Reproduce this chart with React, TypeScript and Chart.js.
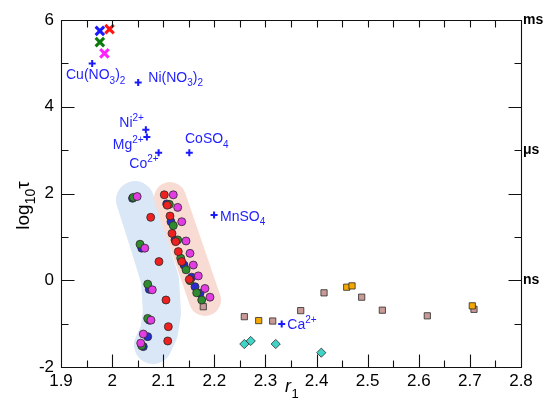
import React, { useEffect, useRef } from "react";
import { Chart, registerables } from "chart.js";

Chart.register(...registerables);

// ---------- axis ranges and tick labels ----------
const X_MIN = 1.9;
const X_MAX = 2.8;
const Y_MIN = -2;
const Y_MAX = 6;
const xTickValues = [1.9, 2.0, 2.1, 2.2, 2.3, 2.4, 2.5, 2.6, 2.7, 2.8];
const xTickLabels = ["1.9", "2", "2.1", "2.2", "2.3", "2.4", "2.5", "2.6", "2.7", "2.8"];
const yTickValues = [-2, 0, 2, 4, 6];
const yTickLabels = ["-2", "0", "2", "4", "6"];
const unitTickValues = [0, 3, 6];
const unitTickLabels = ["ns", "μs", "ms"];

// ---------- data: [r1, log10 tau] ----------
const redCircles: [number, number][] = [
  [2.0755, 1.45], [2.0917, 0.43], [2.1054, -0.455], [2.11, -1.07], [2.1088, -1.4],
  [2.1021, 1.97], [2.108, 1.73], [2.1133, 1.48], [2.1172, 1.08], [2.1244, 0.89],
  [2.1295, 0.66], [2.1362, 0.43], [2.151, 0.02],
];
const greenCircles: [number, number][] = [
  [2.0415, 1.91], [2.0546, 0.83], [2.0696, -0.09], [2.0696, -0.88], [2.058, -1.51],
  [2.1119, 1.75], [2.1197, 1.26], [2.1283, 0.93], [2.1342, 0.51], [2.1446, 0.24],
  [2.1524, -0.01], [2.1655, -0.29], [2.1753, -0.455],
];
const blueCircles: [number, number][] = [
  [2.04, 1.89], [2.058, 0.74], [2.0728, -0.21], [2.0728, -0.92], [2.0696, -1.3], [2.061, -1.53],
  [2.1068, 1.76], [2.1152, 1.35], [2.123, 0.93], [2.1407, 0.35], [2.1557, 0.07],
  [2.1622, -0.15], [2.172, -0.3],
];
const magentaCircles: [number, number][] = [
  [2.049, 1.93], [2.064, 0.74], [2.0786, -0.22], [2.076, -0.92], [2.061, -1.24], [2.056, -1.45],
  [2.1197, 1.97], [2.1283, 1.68], [2.1362, 1.35], [2.1446, 0.905], [2.1524, 0.62],
  [2.1589, 0.35], [2.1686, 0.1], [2.1817, -0.19], [2.1915, -0.39],
];
const brownSquares: [number, number][] = [
  [2.1784, -0.61], [2.2587, -0.84], [2.3142, -0.94], [2.369, -0.7], [2.4146, -0.29],
  [2.4883, -0.39], [2.5287, -0.69], [2.6167, -0.82], [2.708, -0.67],
];
const orangeSquares: [number, number][] = [
  [2.2868, -0.93], [2.459, -0.16], [2.4694, -0.13], [2.7047, -0.59],
];
const cyanDiamonds: [number, number][] = [
  [2.2587, -1.47], [2.2712, -1.4], [2.3201, -1.47], [2.4093, -1.67],
];
const blueCross: [number, number][] = [[1.976, 5.75]];
const redCross: [number, number][] = [[1.995, 5.79]];
const greenCross: [number, number][] = [[1.976, 5.49]];
const magentaCross: [number, number][] = [[1.985, 5.23]];
const saltPluses: [number, number][] = [
  [1.961, 5.0], [2.051, 4.56], [2.066, 3.47], [2.068, 3.3], [2.091, 2.94],
  [2.151, 2.94], [2.1995, 1.504], [2.3318, -1.009],
];

// label anchors (data coords of text start / baseline) and rich-text parts
// part mode: 0 normal, -1 subscript, 1 superscript
const saltLabelAnchors: [number, number][] = [
  [1.9098, 4.64], [2.0708, 4.578], [2.0141, 3.526], [2.0012, 3.019],
  [2.0336, 2.581], [2.1426, 3.157], [2.2111, 1.373], [2.3428, -1.131],
];
const saltLabelParts: [string, number][][] = [
  [["Cu(NO", 0], ["3", -1], [")", 0], ["2", -1]],
  [["Ni(NO", 0], ["3", -1], [")", 0], ["2", -1]],
  [["Ni", 0], ["2+", 1]],
  [["Mg", 0], ["2+", 1]],
  [["Co", 0], ["2+", 1]],
  [["CoSO", 0], ["4", -1]],
  [["MnSO", 0], ["4", -1]],
  [["Ca", 0], ["2+", 1]],
];

// shaded band centre lines (data coords)
const blueBandPath: [number, number][] = [
  [2.0448, 1.85], [2.0741, 0.767], [2.0937, 0.006], [2.0976, -0.755], [2.0917, -1.193], [2.08, -1.493],
];
const pinkBandPath: [number, number][] = [[2.1133, 1.896], [2.1817, -0.455]];

const FONT = '"Liberation Sans", Arial, Helvetica, sans-serif';

const toPts = (arr: [number, number][]) => arr.map(([x, y]) => ({ x, y }));

function drawRich(ctx: CanvasRenderingContext2D, x: number, y: number, parts: [string, number][], size: number, style = "") {
  let cx = x;
  for (const [text, mode] of parts) {
    const fs = mode === 0 ? size : Math.round(size * 0.74);
    ctx.font = `${style}${fs}px ${FONT}`;
    const dy = mode === -1 ? size * 0.34 : mode === 1 ? -size * 0.42 : 0;
    ctx.fillText(text, cx, y + dy);
    cx += ctx.measureText(text).width;
  }
  return cx - x;
}

const bandsPlugin = {
  id: "bands",
  beforeDatasetsDraw(chart: any) {
    const { ctx, chartArea, scales } = chart;
    const xs = scales.x, ys = scales.y;
    ctx.save();
    ctx.beginPath();
    ctx.rect(chartArea.left, chartArea.top, chartArea.right - chartArea.left, chartArea.bottom - chartArea.top);
    ctx.clip();
    const drawBand = (path: [number, number][], color: string, width: number) => {
      ctx.beginPath();
      path.forEach(([x, y], i) => {
        const px = xs.getPixelForValue(x), py = ys.getPixelForValue(y);
        if (i === 0) ctx.moveTo(px, py); else ctx.lineTo(px, py);
      });
      ctx.strokeStyle = color;
      ctx.lineWidth = width;
      ctx.lineCap = "round";
      ctx.lineJoin = "round";
      ctx.stroke();
    };
    drawBand(blueBandPath, "#d9e7f6", 38);
    drawBand(pinkBandPath, "#f8dcd4", 32);
    ctx.restore();
  },
};

const framePlugin = {
  id: "frame",
  afterDatasetsDraw(chart: any) {
    const { ctx, chartArea, scales } = chart;
    const xs = scales.x, ys = scales.y;
    const L = Math.round(chartArea.left) + 0.5;
    const R = Math.round(chartArea.right) + 0.5;
    const T = Math.round(chartArea.top) + 0.5;
    const B = Math.round(chartArea.bottom) + 0.5;
    ctx.save();
    ctx.strokeStyle = "#111";
    ctx.lineWidth = 1.1;
    ctx.beginPath();
    ctx.moveTo(L, T); ctx.lineTo(R, T); ctx.lineTo(R, B); ctx.lineTo(L, B); ctx.closePath();
    for (let i = 0; i <= 18; i++) {
      const v = X_MIN + i * 0.05;
      const px = Math.round(xs.getPixelForValue(v)) + 0.5;
      const major = i % 2 === 0;
      ctx.moveTo(px, B); ctx.lineTo(px, B - (major ? 13 : 7));
      ctx.moveTo(px, T); ctx.lineTo(px, T + 7);
    }
    for (let v = Y_MIN; v <= Y_MAX; v++) {
      const py = Math.round(ys.getPixelForValue(v)) + 0.5;
      const len = v % 2 === 0 ? 13 : 7;
      ctx.moveTo(L, py); ctx.lineTo(L + len, py);
      ctx.moveTo(R, py); ctx.lineTo(R - len, py);
    }
    ctx.stroke();
    ctx.restore();
  },
};

const textPlugin = {
  id: "texts",
  afterDraw(chart: any) {
    const { ctx, chartArea, scales } = chart;
    const xs = scales.x, ys = scales.y;
    ctx.save();
    ctx.textBaseline = "alphabetic";
    ctx.textAlign = "left";
    ctx.fillStyle = "#1f1fff";
    saltLabelAnchors.forEach(([x, y], i) => {
      drawRich(ctx, xs.getPixelForValue(x), ys.getPixelForValue(y), saltLabelParts[i], 14);
    });
    // y axis title
    ctx.fillStyle = "#000";
    ctx.save();
    ctx.translate(29, (chartArea.top + chartArea.bottom) / 2 + 12);
    ctx.rotate(-Math.PI / 2);
    let w = 0;
    ctx.font = `19px ${FONT}`; w += ctx.measureText("log").width;
    ctx.font = `14px ${FONT}`; w += ctx.measureText("10").width;
    ctx.font = `19px ${FONT}`; w += ctx.measureText("τ").width;
    drawRich(ctx, -w / 2, 0, [["log", 0], ["10", -1], ["τ", 0]], 19);
    ctx.restore();
    // x axis title
    const cx = (chartArea.left + chartArea.right) / 2;
    ctx.font = `italic 18px ${FONT}`;
    ctx.fillText("r", cx - 6, 392);
    ctx.font = `13px ${FONT}`;
    ctx.fillText("1", cx + 0.5, 398);
    ctx.restore();
  },
};

export default function App() {
  const ref = useRef<HTMLCanvasElement | null>(null);
  useEffect(() => {
    if (!ref.current) return;
    const circle = (data: [number, number][], color: string) => ({
      data: toPts(data),
      pointStyle: "circle" as const,
      pointRadius: 4,
      backgroundColor: color,
      borderColor: "#2a2a2a",
      borderWidth: 0.8,
    });
    const cross = (data: [number, number][], color: string) => ({
      data: toPts(data),
      pointStyle: "crossRot" as const,
      pointRadius: 6,
      backgroundColor: color,
      borderColor: color,
      borderWidth: 3,
    });
    const chart = new Chart(ref.current, {
      type: "scatter",
      data: {
        datasets: [
          cross(blueCross, "#1a1aff"),
          cross(redCross, "#ff1414"),
          cross(greenCross, "#0b7a0b"),
          cross(magentaCross, "#ff22ff"),
          {
            data: toPts(saltPluses),
            pointStyle: "cross",
            pointRadius: 3.5,
            borderColor: "#1a1aff",
            backgroundColor: "#1a1aff",
            borderWidth: 2,
          },
          circle(magentaCircles, "#e23ce2"),
          circle(redCircles, "#ee2020"),
          circle(greenCircles, "#2e8b2e"),
          circle(blueCircles, "#2a2ad2"),
          {
            data: toPts(orangeSquares),
            pointStyle: "rect",
            pointRadius: 4.4,
            backgroundColor: "#f5a800",
            borderColor: "#2a2a2a",
            borderWidth: 0.8,
          },
          {
            data: toPts(brownSquares),
            pointStyle: "rect",
            pointRadius: 4.4,
            backgroundColor: "#c99a96",
            borderColor: "#2a2a2a",
            borderWidth: 0.8,
          },
          {
            data: toPts(cyanDiamonds),
            pointStyle: "rectRot",
            pointRadius: 4.6,
            backgroundColor: "#40d4c8",
            borderColor: "#2a2a2a",
            borderWidth: 0.8,
          },
        ],
      },
      options: {
        responsive: false,
        animation: false,
        devicePixelRatio: 1,
        events: [],
        layout: { padding: { top: 20, left: 0, right: 0, bottom: 0 } },
        plugins: { legend: { display: false }, tooltip: { enabled: false } },
        scales: {
          x: {
            type: "linear",
            position: "bottom",
            min: X_MIN,
            max: X_MAX,
            afterBuildTicks: (s: any) => { s.ticks = xTickValues.map((v) => ({ value: v })); },
            afterFit: (s: any) => { s.height = 42; },
            ticks: {
              callback: (_v: any, i: number) => xTickLabels[i],
              font: { family: FONT, size: 17 },
              color: "#000",
              padding: 4,
              maxRotation: 0,
              autoSkip: false,
            },
            grid: { display: false, drawTicks: false },
            border: { display: false },
          },
          y: {
            type: "linear",
            position: "left",
            min: Y_MIN,
            max: Y_MAX,
            afterBuildTicks: (s: any) => { s.ticks = yTickValues.map((v) => ({ value: v })); },
            afterFit: (s: any) => { s.width = 61; },
            ticks: {
              callback: (_v: any, i: number) => yTickLabels[i],
              font: { family: FONT, size: 17 },
              color: "#000",
              padding: 7,
              autoSkip: false,
            },
            grid: { display: false, drawTicks: false },
            border: { display: false },
          },
          y2: {
            type: "linear",
            position: "right",
            min: Y_MIN,
            max: Y_MAX,
            afterBuildTicks: (s: any) => { s.ticks = unitTickValues.map((v) => ({ value: v })); },
            afterFit: (s: any) => { s.width = 26; },
            ticks: {
              callback: (_v: any, i: number) => unitTickLabels[i],
              font: { family: FONT, size: 14, weight: "bold" },
              color: "#000",
              padding: 2,
              autoSkip: false,
            },
            grid: { display: false, drawTicks: false },
            border: { display: false },
          },
        },
      },
      plugins: [bandsPlugin, framePlugin, textPlugin],
    });
    return () => chart.destroy();
  }, []);
  return (
    <div style={{ position: "absolute", left: 0, top: 0, width: 547, height: 409 }}>
      <canvas ref={ref} width={547} height={409} style={{ display: "block" }} />
    </div>
  );
}
